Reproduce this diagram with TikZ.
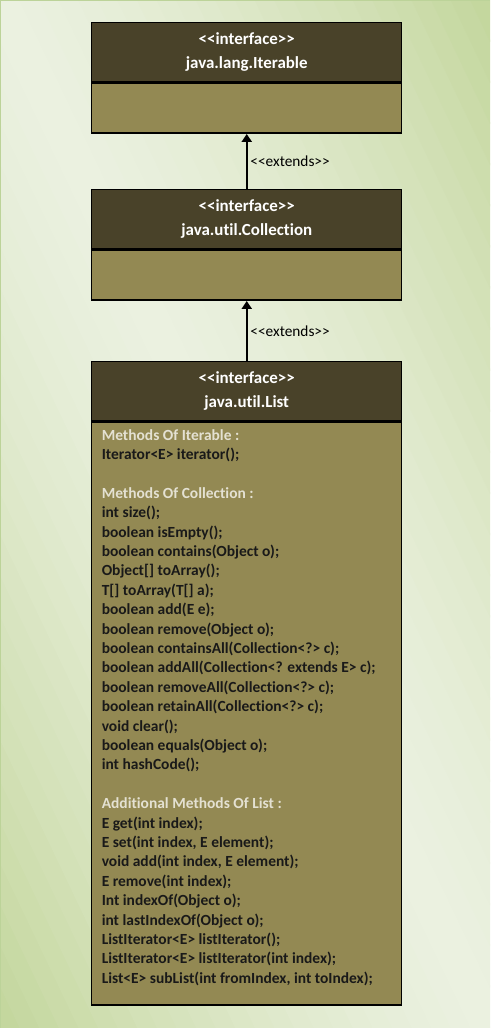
\documentclass[tikz,border=0pt]{standalone}
\usepackage{fontspec}
\setmainfont{Carlito}[Ligatures=NoCommon]
\usetikzlibrary{arrows.meta,positioning}
\definecolor{hdrbrown}{HTML}{494229}
\definecolor{bodyolive}{HTML}{938953}
\definecolor{secgrey}{HTML}{E4E1D2}
\definecolor{bglight}{HTML}{EBF1E0}
\definecolor{bggreen}{HTML}{C3D69C}
\definecolor{bgedge}{HTML}{BCD399}
\newcommand{\sect}[1]{\textcolor{secgrey}{#1}}
\tikzset{
  hdr/.style={draw=black,line width=1.1pt,fill=hdrbrown,text=white,anchor=north,
    font=\bfseries\fontsize{12.7}{17.8}\selectfont,align=center,inner sep=0pt,
    minimum width=232.5pt,minimum height=44.25pt},
  classbody/.style={draw=black,line width=1.1pt,fill=bodyolive,anchor=north,
    inner sep=0pt,minimum width=232.5pt},
  extarrow/.style={line width=1.5pt,-{Triangle[width=7.5pt,length=6pt]}},
  extlabel/.style={font=\fontsize{11.5}{13}\selectfont,right,inner sep=2pt},
  ops/.style={font=\bfseries\fontsize{11.6}{14.55}\selectfont,align=left,
    anchor=north west,inner sep=0pt,text=black!90}
}
\begin{document}
\begin{tikzpicture}[x=0.75pt,y=-0.75pt]
  \useasboundingbox (0,0) rectangle (490,1028);
  % background, light along the diagonal, green towards two corners
  \begin{scope}
    \clip (0,0) rectangle (490,1028);
    \foreach \c in {-1.00,-0.96,...,0.97}{
      \pgfmathsetmacro{\p}{min(100,100*abs(\c+0.02)^1.4)}
      \fill[bggreen!\p!bglight] (490*\c,0) -- (490*\c+20.5,0)
        -- (490*\c+510.5,1028) -- (490*\c+490,1028) -- cycle;
    }
  \end{scope}
  \draw[bgedge,line width=0.75pt] (0.5,1028) -- (0.5,0.5) -- (490,0.5);

  % java.lang.Iterable
  \node[hdr] (itrhdr) at (246.75,22) {<{}<interface>{}>\\java.lang.Iterable};
  \node[classbody,minimum height=37.5pt] (itrbody) at (itrhdr.south) {};

  % java.util.Collection
  \node[hdr] (colhdr) at (246.75,189) {<{}<interface>{}>\\java.util.Collection};
  \node[classbody,minimum height=37.5pt] (colbody) at (colhdr.south) {};

  % java.util.List
  \node[hdr] (lsthdr) at (246.75,361) {<{}<interface>{}>\\java.util.List};
  \node[classbody,minimum height=437.25pt] (lstbody) at (lsthdr.south) {};
  \node[ops] (lstops) at (101.5,429) {%
    \sect{Methods Of Iterable :}\\
    Iterator<E> iterator();\\
    \mbox{}\\
    \sect{Methods Of Collection :}\\
    int size();\\
    boolean isEmpty();\\
    boolean contains(Object o);\\
    Object[] toArray();\\
    T[] toArray(T[] a);\\
    boolean add(E e);\\
    boolean remove(Object o);\\
    boolean containsAll(Collection<?> c);\\
    boolean addAll(Collection<? extends E> c);\\
    boolean removeAll(Collection<?> c);\\
    boolean retainAll(Collection<?> c);\\
    void clear();\\
    boolean equals(Object o);\\
    int hashCode();\\
    \mbox{}\\
    \sect{Additional Methods Of List :}\\
    E get(int index);\\
    E set(int index, E element);\\
    void add(int index, E element);\\
    E remove(int index);\\
    Int indexOf(Object o);\\
    int lastIndexOf(Object o);\\
    ListIterator<E> listIterator();\\
    ListIterator<E> listIterator(int index);\\
    List<E> subList(int fromIndex, int toIndex);};

  % extends
  \draw[extarrow] (colhdr.north) -- (itrbody.south) node[extlabel,midway] {<{}<extends>{}>};
  \draw[extarrow] (lsthdr.north) -- (colbody.south) node[extlabel,midway] {<{}<extends>{}>};
\end{tikzpicture}
\end{document}
